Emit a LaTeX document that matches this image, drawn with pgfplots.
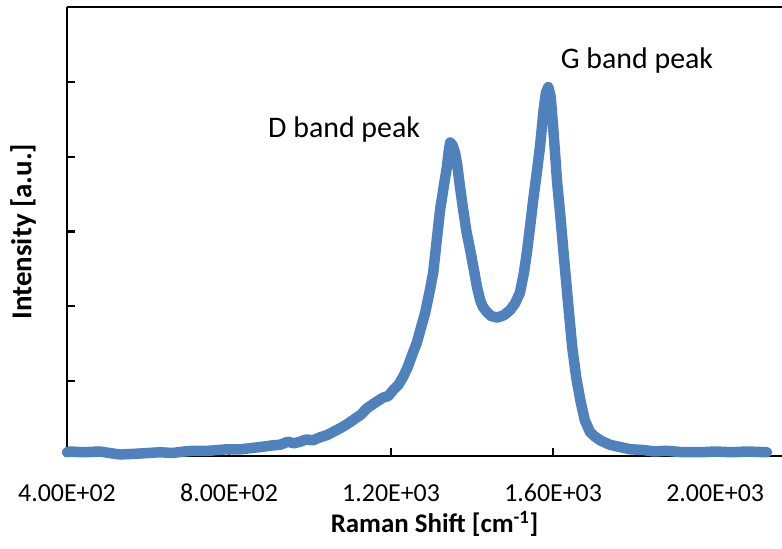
\documentclass[border=0pt]{standalone}
\usepackage{pgfplots}
\pgfplotsset{compat=1.18}
\usepackage{fontspec}
\setmainfont{Carlito}
\definecolor{exblue}{HTML}{4F81BD}
\begin{document}
\begin{tikzpicture}
\begin{axis}[
  scale only axis,
  width=715bp, height=449bp,
  xmin=400, xmax=2165, ymin=0, ymax=6,
  axis x line*=box, axis y line*=left,
  xtick pos=bottom, ytick pos=left,
  tick align=inside,
  major tick length=8bp,
  axis line style={line width=2.2bp},
  every tick/.style={black, line width=2.2bp},
  xtick={400,800,1200,1600,2000},
  xticklabels={4.00E+02,8.00E+02,1.20E+03,1.60E+03,2.00E+03},
  ytick={0,1,2,3,4,5,6},
  yticklabels={},
  xticklabel style={font=\fontsize{26}{30}\selectfont, anchor=center, yshift=-37bp},
  xlabel={\textbf{Raman Shift [cm\textsuperscript{-1}]}},
  ylabel={\textbf{Intensity [a.u.]}},
  xlabel style={font=\fontsize{27}{31}\selectfont, at={(axis description cs:0.514,0)}, anchor=center, yshift=-68bp},
  ylabel style={font=\fontsize{29}{33}\selectfont, at={(axis description cs:0,0.5)}, anchor=center, xshift=0bp, yshift=44bp},
  clip=false,
]
\addplot[exblue, line width=10.5bp, line join=round, line cap=round] coordinates {
(400,0.05) (407,0.06) (440,0.05) (481,0.06) (505,0.04) (531,0.02) (570,0.03) (600,0.04)
(630,0.05) (660,0.04) (690,0.06) (711,0.07) (750,0.07) (795,0.09) (830,0.09) (877,0.12)
(905,0.14) (926,0.15) (945,0.19) (960,0.17) (975,0.19) (990,0.22) (1007,0.21)
(1025,0.25) (1042,0.28) (1060,0.33) (1074,0.37) (1090,0.42) (1106,0.48) (1125,0.55)
(1141,0.64) (1160,0.71) (1180,0.78) (1193,0.80) (1205,0.88) (1218,0.95) (1230,1.06)
(1242,1.20) (1254,1.38) (1264,1.52) (1272,1.68) (1284,1.91) (1296,2.22) (1304,2.45)
(1312,2.85) (1321,3.29) (1330,3.60) (1338,3.87) (1343,4.10) (1346,4.19) (1352,4.15)
(1358,4.05) (1363,3.90) (1370,3.60) (1378,3.29) (1386,3.00) (1395,2.76) (1404,2.50)
(1412,2.26) (1420,2.08) (1427,1.99) (1437,1.92) (1447,1.87) (1462,1.85) (1478,1.88)
(1494,1.95) (1506,2.04) (1518,2.18) (1528,2.45) (1536,2.75) (1545,3.15) (1551,3.43)
(1560,3.80) (1568,4.15) (1576,4.60) (1582,4.85) (1588,4.93) (1594,4.80) (1600,4.40)
(1610,3.65) (1618,3.20) (1625,2.76) (1636,2.10) (1647,1.46) (1657,1.05) (1667,0.75)
(1678,0.48) (1691,0.32) (1703,0.26) (1716,0.21) (1740,0.15) (1765,0.12) (1790,0.09)
(1822,0.08) (1850,0.06) (1880,0.07) (1920,0.05) (1963,0.05) (2000,0.06) (2040,0.05)
(2080,0.06) (2128,0.05)
};
\node[font=\fontsize{30}{34}\selectfont, anchor=center] at (axis cs:1084,4.36) {D band peak};
\node[font=\fontsize{30}{34}\selectfont, anchor=center] at (axis cs:1807,5.29) {G band peak};
\coordinate (bl) at (rel axis cs:0,0);
\coordinate (tr) at (rel axis cs:1,1);
\end{axis}
\pgfresetboundingbox
\useasboundingbox ([xshift=-67bp,yshift=-93bp]bl) rectangle ([yshift=7bp]tr);
\end{tikzpicture}
\end{document}
